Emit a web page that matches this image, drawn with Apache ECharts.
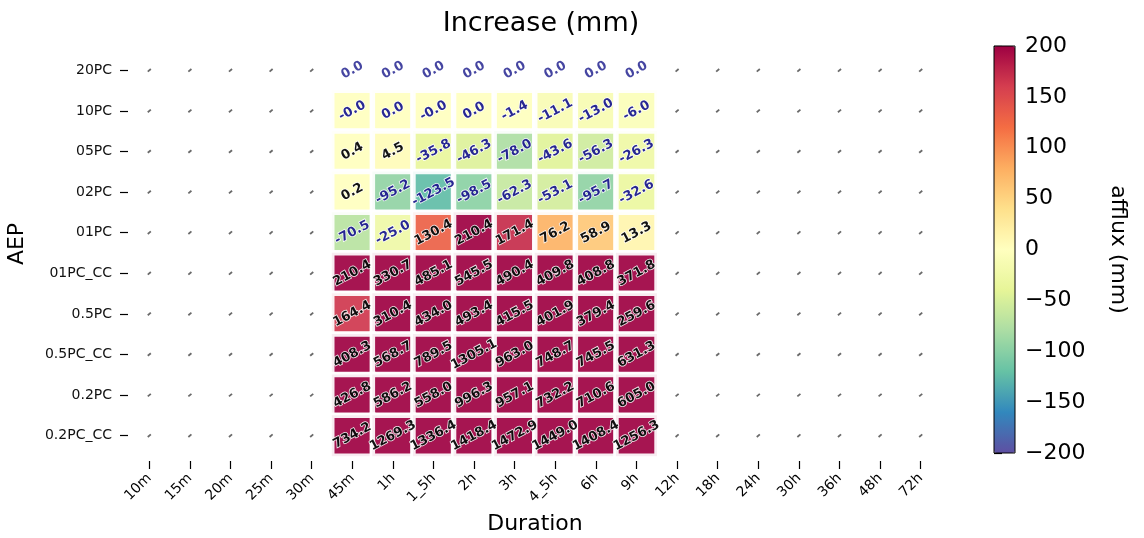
<!DOCTYPE html>
<html><head><meta charset="utf-8">
<script src="https://cdn.jsdelivr.net/npm/echarts@6/dist/echarts.min.js"></script>
<style>html,body{margin:0;padding:0;background:#fff}#c{width:1144px;height:538px}</style>
</head><body><div id="c"></div><script>
// ---- categories ----
const durations = ['10m','15m','20m','25m','30m','45m','1h','1_5h','2h','3h','4_5h','6h','9h','12h','18h','24h','30h','36h','48h','72h'];
const aepLevels = ['20PC','10PC','05PC','02PC','01PC','01PC_CC','0.5PC','0.5PC_CC','0.2PC','0.2PC_CC'];
const modelledDurations = ['45m','1h','1_5h','2h','3h','4_5h','6h','9h'];
const maskedRows = ['20PC'];   // annotated but uncoloured
// ---- values (mm), one list per AEP, in modelledDurations order ----
const v20PC    = [0.0, 0.0, 0.0, 0.0, 0.0, 0.0, 0.0, 0.0];
const v10PC    = [-0.01, 0.0, -0.01, 0.0, -1.4, -11.1, -13.0, -6.0];
const v05PC    = [0.4, 4.5, -35.8, -46.3, -78.0, -43.6, -56.3, -26.3];
const v02PC    = [0.2, -95.2, -123.5, -98.5, -62.3, -53.1, -95.7, -32.6];
const v01PC    = [-70.5, -25.0, 130.4, 210.4, 171.4, 76.2, 58.9, 13.3];
const v01PC_CC = [210.4, 330.7, 485.1, 545.5, 490.4, 409.8, 408.8, 371.8];
const v05PCb   = [164.4, 310.4, 434.0, 493.4, 415.5, 401.9, 379.4, 259.6];
const v05PC_CC = [408.3, 568.7, 789.5, 1305.1, 963.0, 748.7, 745.5, 631.3];
const v02PCb   = [426.8, 586.2, 558.0, 996.3, 957.1, 732.2, 710.6, 605.0];
const v02PC_CC = [734.2, 1269.3, 1336.4, 1418.4, 1472.9, 1449.0, 1408.4, 1256.3];
// ---- colour bar ticks ----
const cbarMin = -200, cbarMax = 200, cbarStep = 50;
const spectralR = ['#5e4fa2','#3288bd','#66c2a5','#abdda4','#e6f598','#ffffbf','#fee08b','#fdae61','#f46d43','#d53e4f','#9e0142'];

const rows = {'20PC':v20PC,'10PC':v10PC,'05PC':v05PC,'02PC':v02PC,'01PC':v01PC,'01PC_CC':v01PC_CC,
  '0.5PC':v05PCb,'0.5PC_CC':v05PC_CC,'0.2PC':v02PCb,'0.2PC_CC':v02PC_CC};

const FONT = 'DejaVu Sans';
const NAVY = '#16168a';
const heat = [], masked = [], empty = [];
aepLevels.forEach(a => {
  durations.forEach(d => {
    const j = modelledDurations.indexOf(d);
    if (j < 0) { empty.push([d, a]); return; }
    const v = rows[a][j];
    const item = {value: [d, a, v], label: {color: v <= 0 ? NAVY : '#000'}};
    if (maskedRows.indexOf(a) >= 0) masked.push(item); else heat.push(item);
  });
});

const labelCommon = {
  show: true, rotate: 28, fontFamily: FONT, fontSize: 13, fontWeight: 'bold',
  textBorderColor: '#fff', textBorderWidth: 1.5,
  formatter: p => p.value[2].toFixed(1)
};

const chart = echarts.init(document.getElementById('c'), null, {renderer: 'canvas'});
chart.setOption({
  animation: false,
  backgroundColor: '#fff',
  textStyle: {fontFamily: FONT},
  title: {text: 'Increase (mm)', left: 536, textAlign: 'center', top: 5,
    textStyle: {fontFamily: FONT, fontSize: 27, fontWeight: 'normal', color: '#000'}},
  grid: [
    {left: 129, top: 50, width: 812, height: 406, outerBoundsMode: 'none', containLabel: false},
    {left: 994, top: 46, width: 21, height: 407, outerBoundsMode: 'none', containLabel: false,
      show: true, borderColor: '#000', borderWidth: 1, backgroundColor: 'transparent', z: 6}
  ],
  xAxis: [
    {type: 'category', data: durations, gridIndex: 0, offset: 5,
      axisLine: {show: false}, splitLine: {show: false},
      axisTick: {show: true, alignWithLabel: true, length: 8, lineStyle: {color: '#000', width: 1.2}},
      axisLabel: {rotate: 45, interval: 0, fontSize: 14, margin: 15, color: '#000', fontFamily: FONT},
      name: 'Duration', nameLocation: 'middle', nameGap: 52,
      nameTextStyle: {fontSize: 22, color: '#000', fontFamily: FONT}},
    {type: 'value', gridIndex: 1, show: false, min: 0, max: 1}
  ],
  yAxis: [
    {type: 'category', data: aepLevels, gridIndex: 0, inverse: true, offset: 1,
      axisLine: {show: false}, splitLine: {show: false},
      axisTick: {show: true, alignWithLabel: true, length: 8, lineStyle: {color: '#000', width: 1.2}},
      axisLabel: {fontSize: 14, margin: 16, color: '#111', fontFamily: FONT},
      name: 'AEP', nameLocation: 'middle', nameGap: 100, nameRotate: 90,
      nameTextStyle: {fontSize: 22, color: '#000', fontFamily: FONT, padding: [0, 0, 0, 18]}},
    {type: 'value', gridIndex: 1, position: 'right', min: cbarMin, max: cbarMax, interval: cbarStep,
      axisLine: {show: false}, splitLine: {show: false},
      axisTick: {show: true, length: 8, lineStyle: {color: '#000', width: 1.2}},
      axisLabel: {fontSize: 22, color: '#000', margin: 10, fontFamily: FONT,
        formatter: v => v < 0 ? '\u2212' + Math.abs(v) : String(v)},
      name: 'afflux (mm)', nameLocation: 'middle', nameRotate: -90, nameGap: 92,
      nameTextStyle: {fontSize: 22, color: '#000', fontFamily: FONT}}
  ],
  visualMap: {
    type: 'continuous', min: cbarMin, max: cbarMax, seriesIndex: 0,
    orient: 'vertical', left: 994, top: 46, itemWidth: 21, itemHeight: 407,
    calculable: false, hoverLink: false, padding: 0, showLabel: false,
    indicatorSize: 0, indicatorStyle: {opacity: 0}, handleStyle: {opacity: 0},
    inRange: {color: spectralR}
  },
  series: [
    {type: 'heatmap', xAxisIndex: 0, yAxisIndex: 0, data: heat,
      itemStyle: {borderColor: '#fff', borderWidth: 5.5, opacity: 0.92},
      label: labelCommon, emphasis: {disabled: true}},
    {type: 'scatter', xAxisIndex: 0, yAxisIndex: 0, data: masked,
      symbol: 'rect', symbolSize: 2, itemStyle: {color: 'rgba(255,255,255,0)'},
      label: Object.assign({}, labelCommon, {position: 'inside'}), emphasis: {disabled: true}},
    {type: 'scatter', xAxisIndex: 0, yAxisIndex: 0, data: empty,
      symbol: 'rect', symbolSize: [4, 1.8], symbolRotate: 40,
      itemStyle: {color: '#444'}, emphasis: {disabled: true}, silent: true}
  ]
});
</script></body></html>
